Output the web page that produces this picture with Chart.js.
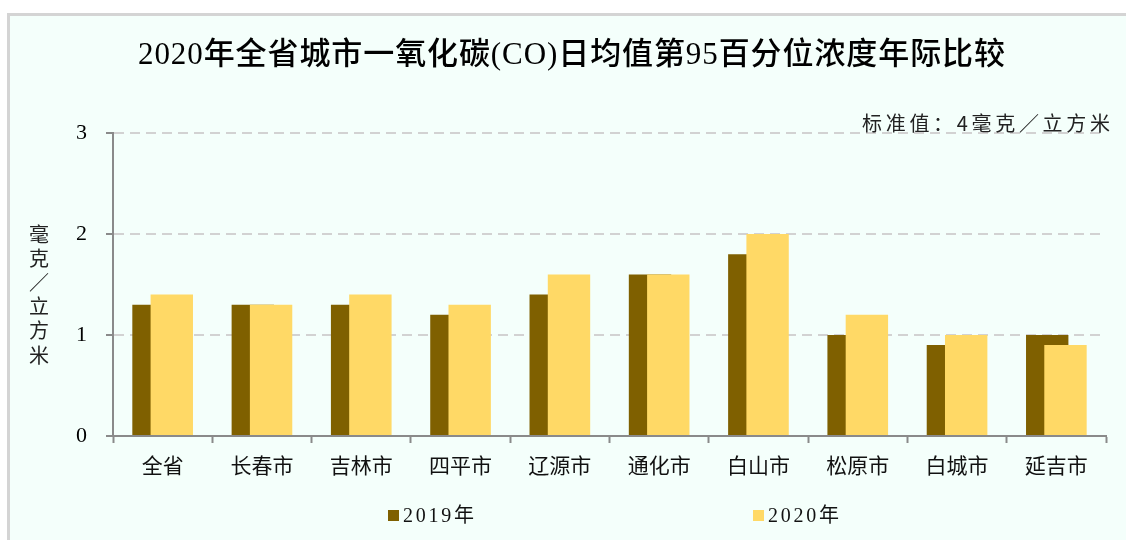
<!DOCTYPE html>
<html lang="zh">
<head>
  <meta charset="UTF-8">
  <title>2020年全省城市一氧化碳(CO)日均值第95百分位浓度年际比较</title>
  <script src="https://cdn.jsdelivr.net/npm/chart.js"></script>
  <style>
    html, body { margin: 0; padding: 0; background: #fff; overflow: hidden; }
    .frame {
      position: absolute; left: 7px; top: 13px; width: 1140px; height: 540px;
      border-top: 3px solid #d4d4d4; border-left: 3px solid #d4d4d4;
      background: #f4fffb;
    }
    #co-chart { position: absolute; left: 0; top: 0; }
  </style>
</head>
<body>
  <div class="frame"></div>
  <canvas id="co-chart" width="1126" height="540"></canvas>
  <script>
    const cities = ['全省', '长春市', '吉林市', '四平市', '辽源市', '通化市', '白山市', '松原市', '白城市', '延吉市'];
    const co2019 = [1.3, 1.3, 1.3, 1.2, 1.4, 1.6, 1.8, 1.0, 0.9, 1.0];
    const co2020 = [1.4, 1.3, 1.4, 1.3, 1.6, 1.6, 2.0, 1.2, 1.0, 0.9];
    const yTicks = [0, 1, 2, 3];
    const titleText = '2020年全省城市一氧化碳(CO)日均值第95百分位浓度年际比较';
    const noteText = '标准值：4毫克／立方米';
    const unitChars = ['毫', '克', '／', '立', '方', '米'];

    const serif = "'Liberation Serif', 'Noto Sans CJK SC', serif";
    const cjk = "'Noto Sans CJK SC', 'Liberation Serif', sans-serif";

    // draw text char by char, spread to a given width
    function spreadText(ctx, text, left, y, width) {
      const chars = Array.from(text);
      const widths = chars.map(c => ctx.measureText(c).width);
      const total = widths.reduce((a, b) => a + b, 0);
      const gap = chars.length > 1 ? (width - total) / (chars.length - 1) : 0;
      let x = left;
      ctx.textAlign = 'left';
      chars.forEach((c, i) => {
        ctx.fillText(c, x, y);
        x += widths[i] + gap;
      });
    }

    // 2020 bars overlap the 2019 ones, so draw datasets first-to-last
    const barOrder = {
      id: 'barOrder',
      beforeDatasetsDraw(chart) {
        chart.getSortedVisibleDatasetMetas().forEach(meta => meta.controller.draw());
        return false;
      }
    };

    const decorations = {
      id: 'decorations',
      afterDraw(chart) {
        const ctx = chart.ctx;
        ctx.save();
        ctx.fillStyle = '#000';
        ctx.textBaseline = 'middle';

        ctx.font = '500 31px ' + serif;
        spreadText(ctx, titleText, 138, 56, 867);

        ctx.font = '20px ' + cjk;
        ctx.fillStyle = '#222';
        spreadText(ctx, noteText, 862, 123, 248);

        ctx.font = '20px ' + cjk;
        ctx.textAlign = 'center';
        unitChars.forEach((c, i) => ctx.fillText(c, 39, 234 + i * 24.2));

        const legendX = [388, 753];
        chart.data.datasets.forEach((ds, i) => {
          ctx.fillStyle = ds.backgroundColor;
          ctx.fillRect(legendX[i], 510, 11, 11);
          ctx.fillStyle = '#111';
          ctx.font = '20px ' + serif;
          spreadText(ctx, ds.label, legendX[i] + 15, 517, 71);
        });
        ctx.restore();
      }
    };

    new Chart(document.getElementById('co-chart'), {
      type: 'bar',
      data: {
        labels: cities,
        datasets: [
          { label: '2019年', data: co2019, backgroundColor: '#7f6000', categoryPercentage: 0.368, barPercentage: 2.32 },
          { label: '2020年', data: co2020, backgroundColor: '#ffd966', categoryPercentage: 0.368, barPercentage: 2.32 }
        ]
      },
      options: {
        responsive: false,
        animation: false,
        layout: { padding: { top: 133, left: 0, right: 20, bottom: 64 } },
        plugins: {
          legend: { display: false },
          title: { display: false },
          tooltip: { enabled: false }
        },
        scales: {
          x: {
            offset: true,
            afterFit(scale) { scale.height = 40; },
            grid: { offset: true, drawOnChartArea: false, drawTicks: true, tickLength: 7, tickColor: '#8a8a8a', tickWidth: 2 },
            border: { color: '#8a8a8a', width: 2 },
            ticks: { color: '#111', padding: 9, font: { family: cjk, size: 21 } }
          },
          y: {
            min: 0,
            max: 3,
            afterFit(scale) { scale.width = 113; },
            afterBuildTicks(scale) { scale.ticks = yTicks.map(v => ({ value: v })); },
            grid: { color: '#d2d2d2', lineWidth: 2, tickLength: 7, tickColor: '#8a8a8a', tickWidth: 2 },
            border: { color: '#8a8a8a', width: 2, dash: [10, 6] },
            ticks: { color: '#000', padding: 19, font: { family: serif, size: 22 } }
          }
        }
      },
      plugins: [barOrder, decorations]
    });
  </script>
</body>
</html>
